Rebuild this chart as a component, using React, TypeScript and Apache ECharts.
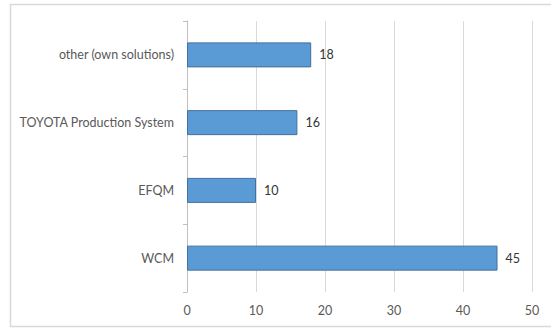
import React, { useEffect, useRef } from "react";
import * as echarts from "echarts";

// Methods in use, listed bottom to top as drawn on the category axis
const categories = ["WCM", "EFQM", "TOYOTA Production System", "other (own solutions)"];
const counts = [45, 10, 16, 18];
const xMin = 0;
const xMax = 50;
const xStep = 10;

export default function App() {
  const ref = useRef<HTMLDivElement>(null);

  useEffect(() => {
    document.body.style.margin = "0";
    if (!ref.current) return;
    const chart = echarts.init(ref.current, null, { renderer: "svg" });
    const font = "Lato, 'Noto Sans', sans-serif";
    chart.setOption({
      animation: false,
      backgroundColor: "#ffffff",
      graphic: [
        {
          type: "rect",
          shape: { x: 10.5, y: 4.5, width: 560, height: 322 },
          style: { fill: "none", stroke: "#d9d9d9", lineWidth: 1.5 },
          silent: true,
        },
      ],
      grid: { left: 187, right: 19, top: 21, bottom: 37, containLabel: false },
      xAxis: {
        type: "value",
        min: xMin,
        max: xMax,
        interval: xStep,
        axisLine: { show: false },
        axisTick: { show: false },
        splitLine: { show: true, lineStyle: { color: "#d9d9d9", width: 1 } },
        axisLabel: { color: "#595959", fontSize: 12.5, fontFamily: font, margin: 12 },
      },
      yAxis: {
        type: "category",
        data: categories,
        axisLine: { show: true, lineStyle: { color: "#bfbfbf", width: 1 } },
        axisTick: { show: true, length: 4, lineStyle: { color: "#bfbfbf" } },
        axisLabel: { color: "#595959", fontSize: 12.5, fontFamily: font, margin: 13 },
      },
      series: [
        {
          type: "bar",
          data: counts,
          barWidth: 25,
          itemStyle: { color: "#5b9bd5", borderColor: "#41719c", borderWidth: 1 },
          label: {
            show: true,
            position: "right",
            distance: 8,
            color: "#333333",
            fontSize: 12.5,
            fontFamily: font,
          },
        },
      ],
    });
    return () => chart.dispose();
  }, []);

  return <div ref={ref} style={{ width: 551, height: 329 }} />;
}
